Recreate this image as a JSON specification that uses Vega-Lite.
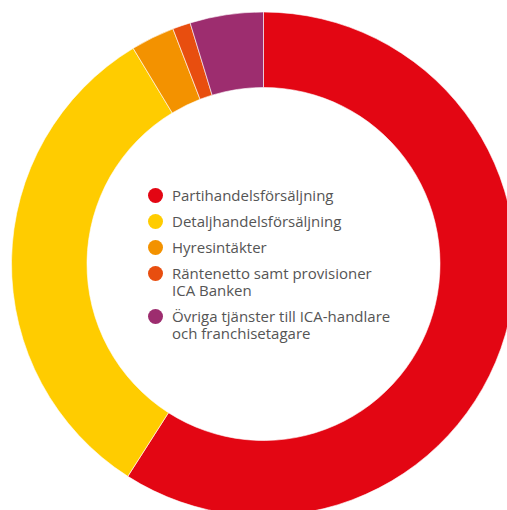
{
  "$schema": "https://vega.github.io/schema/vega-lite/v6.json",
  "width": 527,
  "height": 528,
  "padding": 0,
  "autosize": {"type": "none"},
  "background": "#ffffff",
  "data": {
    "values": [
      {"kategori": "Partihandelsförsäljning", "andel": 59.05, "ordning": 1},
      {"kategori": "Detaljhandelsförsäljning", "andel": 32.3, "ordning": 2},
      {"kategori": "Hyresintäkter", "andel": 2.8, "ordning": 3},
      {"kategori": "Räntenetto samt provisioner|ICA Banken", "andel": 1.15, "ordning": 4},
      {"kategori": "Övriga tjänster till ICA-handlare|och franchisetagare", "andel": 4.7, "ordning": 5}
    ]
  },
  "mark": {"type": "arc", "radius": 252, "radius2": 176.5, "stroke": "#ffffff", "strokeWidth": 0.6},
  "encoding": {
    "theta": {"field": "andel", "type": "quantitative", "stack": true},
    "order": {"field": "ordning", "type": "quantitative"},
    "color": {
      "field": "kategori",
      "type": "nominal",
      "scale": {
        "domain": ["Partihandelsförsäljning", "Detaljhandelsförsäljning", "Hyresintäkter", "Räntenetto samt provisioner|ICA Banken", "Övriga tjänster till ICA-handlare|och franchisetagare"],
        "range": ["#E30613", "#FFCC00", "#F39200", "#E84E0F", "#9D2D6F"]
      },
      "legend": {
        "orient": "none",
        "legendX": 148,
        "legendY": 188,
        "title": null,
        "padding": 0,
        "symbolType": "circle",
        "symbolSize": 225,
        "symbolStrokeWidth": 0,
        "labelFont": "Open Sans",
        "labelFontSize": 15,
        "labelColor": "#555555",
        "labelOffset": 9,
        "labelLimit": 400,
        "rowPadding": 10,
        "labelExpr": "split(datum.label, '|')"
      }
    }
  }
}
